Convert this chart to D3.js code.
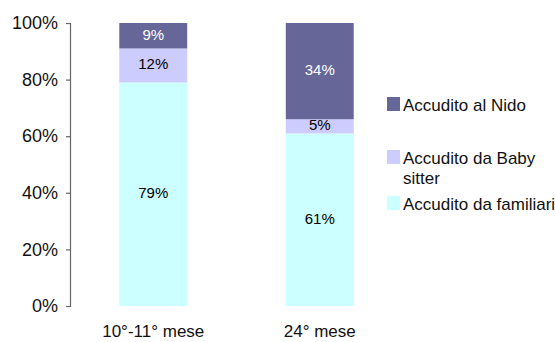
<!DOCTYPE html>
<html>
<head>
<meta charset="utf-8">
<script src="https://cdn.jsdelivr.net/npm/d3@7"></script>
<style>
  html, body { margin: 0; padding: 0; background: #fff; }
  svg { display: block; font-family: "Liberation Sans", Arial, sans-serif; }
</style>
</head>
<body>
<svg id="chart" width="555" height="342"></svg>
<script>
// Categories (age at survey) and share of each childcare arrangement, in %
const categories = ["10°-11° mese", "24° mese"];
const familiari = [79, 61];
const babySitter = [12, 5];
const nido = [9, 34];
const yTicks = [0, 20, 40, 60, 80, 100];

// Series stacked bottom-to-top; legend lists them top-to-bottom
const seriesNames = ["Accudito da familiari", "Accudito da Baby sitter", "Accudito al Nido"];
const seriesValues = [familiari, babySitter, nido];
const seriesColors = ["#CCFFFF", "#CCCCFF", "#666699"];
const labelColors = ["#000", "#000", "#fff"];

const svg = d3.select("#chart");

const x = d3.scaleBand()
  .domain(categories)
  .range([70, 403])
  .paddingInner(0.592)
  .paddingOuter(0.296);

const y = d3.scaleLinear().domain([0, 100]).range([306, 23]);

// Build stacked table
const rows = categories.map((c, i) => {
  const r = { category: c };
  seriesNames.forEach((s, j) => { r[s] = seriesValues[j][i]; });
  return r;
});
const stacked = d3.stack().keys(seriesNames)(rows);

const layers = svg.append("g").selectAll("g")
  .data(stacked)
  .join("g")
  .attr("fill", (d, i) => seriesColors[i]);

layers.selectAll("rect")
  .data(d => d)
  .join("rect")
  .attr("x", d => x(d.data.category))
  .attr("width", x.bandwidth())
  .attr("y", d => y(d[1]))
  .attr("height", d => y(d[0]) - y(d[1]));

// Value labels inside segments
stacked.forEach((layer, i) => {
  svg.append("g").selectAll("text")
    .data(layer)
    .join("text")
    .attr("x", d => x(d.data.category) + x.bandwidth() / 2)
    .attr("y", d => (y(d[0]) + y(d[1])) / 2 + 4)
    .attr("text-anchor", "middle")
    .attr("font-size", 15)
    .attr("fill", labelColors[i])
    .text(d => (d[1] - d[0]) + "%");
});

// Y axis
const yAxis = d3.axisLeft(y)
  .tickValues(yTicks)
  .tickFormat(d => d + "%")
  .tickSize(4)
  .tickPadding(8);
const gy = svg.append("g").attr("transform", "translate(70,0)").call(yAxis);
gy.select(".domain").attr("stroke", "#666").attr("stroke-width", 1.2);
gy.selectAll(".tick line").attr("stroke", "#666").attr("stroke-width", 1.2);
gy.selectAll(".tick text")
  .attr("font-size", 18)
  .attr("font-family", "'Liberation Sans', Arial, sans-serif")
  .attr("fill", "#111");

// Category labels
svg.append("g").selectAll("text")
  .data(categories)
  .join("text")
  .attr("x", d => x(d) + x.bandwidth() / 2)
  .attr("y", 337)
  .attr("text-anchor", "middle")
  .attr("font-size", 17)
  .attr("fill", "#111")
  .text(d => d);

// Legend
const legendItems = [
  { name: "Accudito al Nido", lines: ["Accudito al Nido"], color: seriesColors[2], top: 97 },
  { name: "Accudito da Baby sitter", lines: ["Accudito da Baby", "sitter"], color: seriesColors[1], top: 150 },
  { name: "Accudito da familiari", lines: ["Accudito da familiari"], color: seriesColors[0], top: 196 }
];
const lg = svg.append("g").selectAll("g")
  .data(legendItems)
  .join("g");
lg.append("rect")
  .attr("x", 387)
  .attr("y", d => d.top)
  .attr("width", 13)
  .attr("height", 14)
  .attr("fill", d => d.color);
lg.each(function(d) {
  const t = d3.select(this).append("text")
    .attr("x", 403)
    .attr("y", d.top + 14)
    .attr("font-size", 17)
    .attr("fill", "#111");
  d.lines.forEach((line, k) => {
    t.append("tspan").attr("x", 403).attr("dy", k === 0 ? 0 : 20).text(line);
  });
});
</script>
</body>
</html>
